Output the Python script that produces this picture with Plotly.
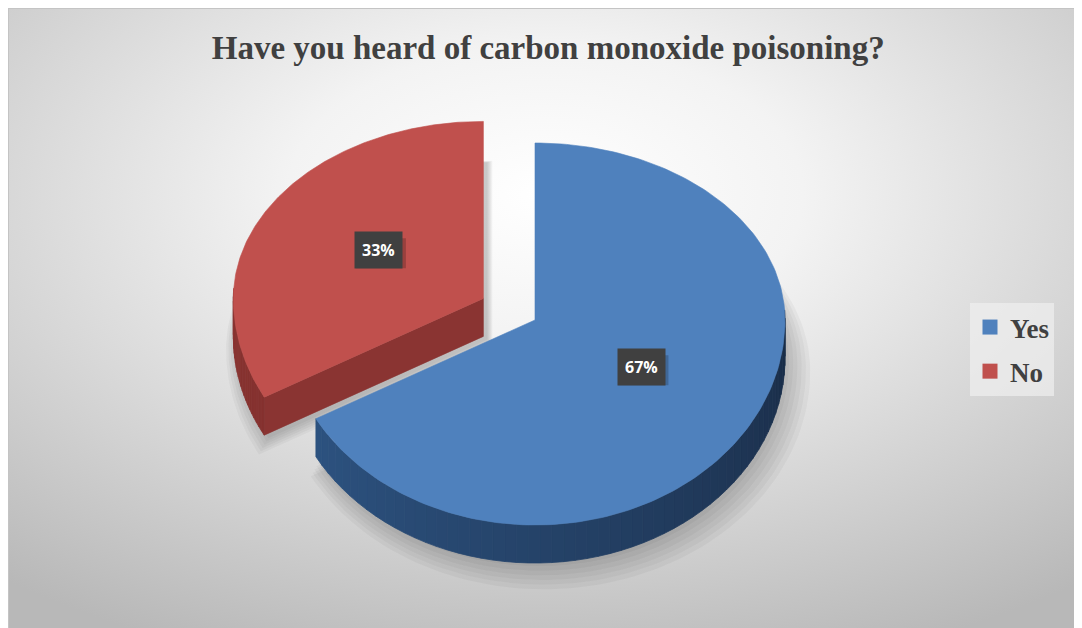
import base64
import numpy as np
import plotly.graph_objects as go

# data
labels = ["Yes", "No"]
values = [67, 33]
colors = ["#4F81BD", "#C0504D"]
wall_colors = [("#30598a", "#1a2d48"), ("#8a3432", "#6b2523")]  # light -> dark
pulls = [0, 0.24]

# the page puts the figure 8px in from the top-left corner
W, H = 1074, 620
cx, cy = 527, 312
rx, ry_back, ry_front = 250, 177, 205
depth = 38


def ell(theta, r=1.0):
    # theta measured clockwise from 12 o'clock, back half flatter than front
    theta = np.asarray(theta, dtype=float)
    c = np.cos(theta)
    ry = np.where(c > 0, ry_back, ry_front)
    return r * rx * np.sin(theta), -r * ry * c


def mix(c1, c2, t):
    a = [int(c1[i:i + 2], 16) for i in (1, 3, 5)]
    b = [int(c2[i:i + 2], 16) for i in (1, 3, 5)]
    m = [round(a[k] + (b[k] - a[k]) * t) for k in range(3)]
    return "rgb(%d,%d,%d)" % tuple(m)


def poly(fig, x, y, color, width=0.6):
    fig.add_trace(go.Scatter(x=list(x), y=list(y), mode="lines", fill="toself",
                             fillcolor=color, line=dict(color=color, width=width),
                             hoverinfo="skip", showlegend=False))


total = sum(values)
fracs = [v / total for v in values]
starts = np.concatenate([[0], np.cumsum(fracs)[:-1]]) * 2 * np.pi
ends = np.cumsum(fracs) * 2 * np.pi

slices = []
for i in range(len(values)):
    a0, a1 = starts[i], ends[i]
    mid = (a0 + a1) / 2
    ox, oy = ell(mid, pulls[i])
    vx, vy = cx + float(ox), cy + float(oy)
    slices.append((i, a0, a1, mid, vx, vy))

fig = go.Figure()

# soft shadows first
for i, a0, a1, mid, vx, vy in slices:
    t = np.linspace(a0, a1, 120)
    for k in range(6):
        ex, ey = ell(t, 1.0 + 0.013 * k)
        poly(fig, np.r_[vx, vx + ex, vx] + 4 + k,
             np.r_[vy, vy + ey, vy] + depth + 3 + 2 * k,
             "rgba(0,0,0,0.035)", width=0)

# back slices first (the pulled-out "No" sits behind "Yes")
for i, a0, a1, mid, vx, vy in sorted(slices, key=lambda s: -s[0]):
    light, dark = wall_colors[i]
    # cut faces that face the viewer
    for edge, normal in ((a0, a0 - np.pi / 2), (a1, a1 + np.pi / 2)):
        if np.cos(normal) < -0.05:
            ex, ey = ell(edge)
            ex, ey = float(ex), float(ey)
            poly(fig, [vx, vx + ex, vx + ex, vx, vx],
                 [vy, vy + ey, vy + ey + depth, vy + depth, vy], light)
    # outer wall, split for shading
    t = np.linspace(a0, a1, 90)
    for j in range(len(t) - 1):
        if np.cos(t[j]) > 0.05 and np.cos(t[j + 1]) > 0.05:
            continue
        ex, ey = ell(t[j:j + 2])
        shade = np.clip((1.5 * np.pi - (t[j] + t[j + 1]) / 2) / np.pi, 0, 1)
        col = mix(light, dark, shade)
        poly(fig, np.r_[vx + ex, vx + ex[::-1], vx + ex[0]],
             np.r_[vy + ey, vy + ey[::-1] + depth, vy + ey[0]], col, width=0.8)
    # top face
    t = np.linspace(a0, a1, 200)
    ex, ey = ell(t)
    poly(fig, np.r_[vx, vx + ex, vx], np.r_[vy, vy + ey, vy], colors[i])

# data labels (dark box with a soft drop shadow)
for i, a0, a1, mid, vx, vy in slices:
    lx, ly = ell(mid, 0.49)
    px, py = vx + float(lx) + 1, vy + float(ly) - 4
    txt = "%d%%" % round(fracs[i] * 100)
    fig.add_shape(type="rect", x0=px - 23, x1=px + 27, y0=py - 12, y1=py + 18,
                  fillcolor="rgba(0,0,0,0.2)", line=dict(width=0), layer="above")
    fig.add_annotation(x=px, y=py, text=txt, showarrow=False,
                       bgcolor="#404040", borderpad=7,
                       font=dict(family="Open Sans", size=16, color="white", weight="bold"))

# legend entries
for i, name in enumerate(labels):
    fig.add_trace(go.Scatter(x=[None], y=[None], mode="markers", name=name, legendgroup=name,
                             marker=dict(symbol="square", size=15, color=colors[i])))

bg_svg = '''<svg xmlns="http://www.w3.org/2000/svg" width="1074" height="620">
<defs><radialGradient id="g" cx="0.5" cy="0.3" r="0.8">
<stop offset="0" stop-color="#ffffff"/><stop offset="0.3" stop-color="#f3f3f3"/>
<stop offset="1" stop-color="#b8b8b8"/></radialGradient></defs>
<rect x="0.5" y="0.5" width="1074" height="620" fill="url(#g)" stroke="#c4c4c4" stroke-width="1"/></svg>'''
bg_src = "data:image/svg+xml;base64," + base64.b64encode(bg_svg.encode()).decode()

fig.update_layout(
    width=W, height=H,
    margin=dict(l=0, r=0, t=0, b=0),
    paper_bgcolor="white",
    plot_bgcolor="rgba(0,0,0,0)",
    title=dict(text="<b>Have you heard of carbon monoxide poisoning?</b>",
               x=0.503, xanchor="center", y=1 - 39 / H, yanchor="middle",
               font=dict(family="Liberation Serif", size=33, color="#404040")),
    legend=dict(x=962 / W, y=1 - 295 / H, xanchor="left", yanchor="top",
                bgcolor="rgba(240,240,240,0.7)", borderwidth=0,
                font=dict(family="Liberation Serif", size=27, color="#404040", weight="bold"),
                tracegroupgap=6, itemwidth=30),
    images=[dict(source=bg_src, xref="paper", yref="paper", x=0, y=1,
                 sizex=1, sizey=1, xanchor="left", yanchor="top",
                 sizing="stretch", layer="below")],
)
fig.update_xaxes(range=[0, W], visible=False, fixedrange=True)
fig.update_yaxes(range=[H, 0], visible=False, fixedrange=True)

fig.write_html("out.html")
